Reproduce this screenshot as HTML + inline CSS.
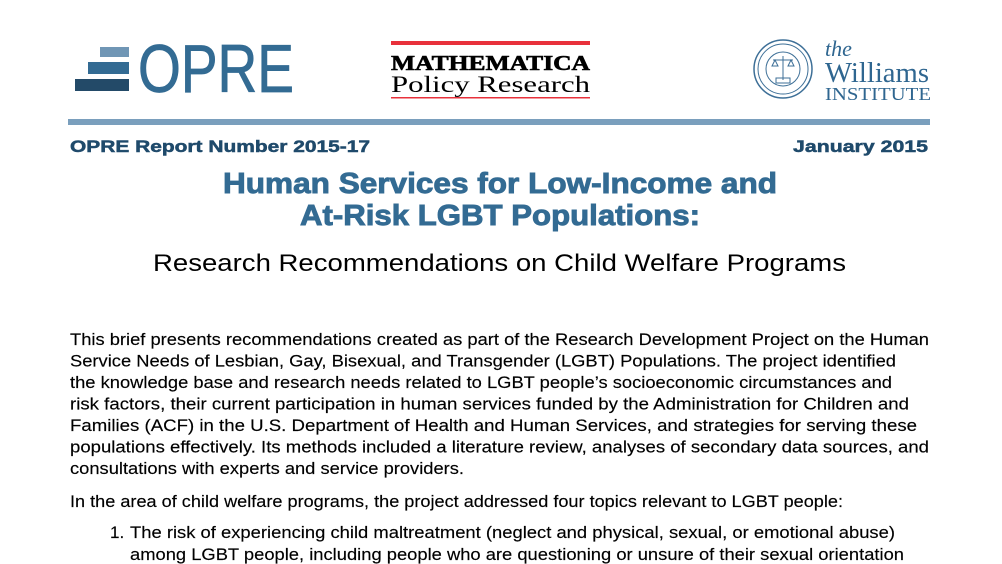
<!DOCTYPE html>
<html><head><meta charset="utf-8"><style>
html,body{margin:0;padding:0;background:#fff;width:1002px;height:564px;overflow:hidden}
svg{display:block}
text{font-family:"Liberation Sans",Arial,sans-serif}
</style></head><body>
<svg width="1002" height="564" viewBox="0 0 1002 564" xmlns="http://www.w3.org/2000/svg">
<rect x="100" y="47" width="29" height="10" fill="#7096b5"/>
<rect x="88" y="62" width="41" height="12" fill="#336b93"/>
<rect x="75" y="79" width="54" height="12" fill="#234a68"/>
<text x="138" y="92" font-size="68" fill="#336b93" stroke="#336b93" stroke-width="0.8" textLength="156" lengthAdjust="spacingAndGlyphs">OPRE</text>
<rect x="391" y="41" width="199" height="4" fill="#e8313b"/>
<text x="391" y="70" font-weight="bold" font-size="21" fill="#000" stroke="#000" stroke-width="0.6" textLength="199" lengthAdjust="spacingAndGlyphs" style="font-family:'Liberation Serif',serif">MATHEMATICA</text>
<text x="391" y="92" font-size="23" fill="#000" textLength="199" lengthAdjust="spacingAndGlyphs" style="font-family:'Liberation Serif',serif">Policy Research</text>
<rect x="391" y="97" width="199" height="1.5" fill="#e8313b"/>
<g fill="none" stroke="#3d6f97">
<circle cx="783" cy="69" r="29" stroke-width="1.5"/>
<circle cx="783" cy="69" r="25" stroke-width="1"/>
<circle cx="783" cy="69" r="17" stroke-width="1"/>
<line x1="773" y1="60" x2="793" y2="60"/>
<line x1="783" y1="56" x2="783" y2="80"/>
<path d="M772 66 l3 -6 l3 6 z M788 66 l3 -6 l3 6 z"/>
<rect x="776" y="78" width="14" height="5"/>
</g>
<text x="825" y="56" font-size="22" font-style="italic" fill="#2f6690" style="font-family:'Liberation Serif',serif">the</text>
<text x="825" y="82" font-size="28" fill="#2f6690" textLength="104" lengthAdjust="spacingAndGlyphs" style="font-family:'Liberation Serif',serif">Williams</text>
<text x="825" y="100" font-size="18" fill="#2f6690" textLength="106" lengthAdjust="spacingAndGlyphs" style="font-family:'Liberation Serif',serif">INSTITUTE</text>
<rect x="68" y="119" width="862" height="6" fill="#7a9fbd"/>
<text x="70" y="152" font-size="17" font-weight="bold" fill="#1f4a6b" stroke="#1f4a6b" stroke-width="0.5" textLength="300" lengthAdjust="spacingAndGlyphs">OPRE Report Number 2015-17</text>
<text x="793" y="152" font-size="17" font-weight="bold" fill="#1f4a6b" stroke="#1f4a6b" stroke-width="0.5" textLength="135" lengthAdjust="spacingAndGlyphs">January 2015</text>
<text x="223" y="193" font-size="29" font-weight="bold" fill="#336b93" stroke="#336b93" stroke-width="0.9" textLength="554" lengthAdjust="spacingAndGlyphs">Human Services for Low-Income and</text>
<text x="300" y="225" font-size="29" font-weight="bold" fill="#336b93" stroke="#336b93" stroke-width="0.9" textLength="400" lengthAdjust="spacingAndGlyphs">At-Risk LGBT Populations:</text>
<text x="153" y="271" font-size="24" fill="#000" textLength="693" lengthAdjust="spacingAndGlyphs">Research Recommendations on Child Welfare Programs</text>
<g font-size="17" fill="#000" stroke="#000" stroke-width="0.15">
<text x="70" y="345" textLength="859" lengthAdjust="spacingAndGlyphs">This brief presents recommendations created as part of the Research Development Project on the Human</text>
<text x="70" y="366.5" textLength="826" lengthAdjust="spacingAndGlyphs">Service Needs of Lesbian, Gay, Bisexual, and Transgender (LGBT) Populations. The project identified</text>
<text x="70" y="388" textLength="822" lengthAdjust="spacingAndGlyphs">the knowledge base and research needs related to LGBT people’s socioeconomic circumstances and</text>
<text x="70" y="409.5" textLength="839" lengthAdjust="spacingAndGlyphs">risk factors, their current participation in human services funded by the Administration for Children and</text>
<text x="70" y="431" textLength="847" lengthAdjust="spacingAndGlyphs">Families (ACF) in the U.S. Department of Health and Human Services, and strategies for serving these</text>
<text x="70" y="452.5" textLength="859" lengthAdjust="spacingAndGlyphs">populations effectively. Its methods included a literature review, analyses of secondary data sources, and</text>
<text x="70" y="474" textLength="394" lengthAdjust="spacingAndGlyphs">consultations with experts and service providers.</text>
<text x="70" y="507" textLength="773" lengthAdjust="spacingAndGlyphs">In the area of child welfare programs, the project addressed four topics relevant to LGBT people:</text>
<text x="110" y="538">1.</text>
<text x="130" y="538" textLength="765" lengthAdjust="spacingAndGlyphs">The risk of experiencing child maltreatment (neglect and physical, sexual, or emotional abuse)</text>
<text x="130" y="560" textLength="774" lengthAdjust="spacingAndGlyphs">among LGBT people, including people who are questioning or unsure of their sexual orientation</text>
</g>
</svg>
</body></html>
